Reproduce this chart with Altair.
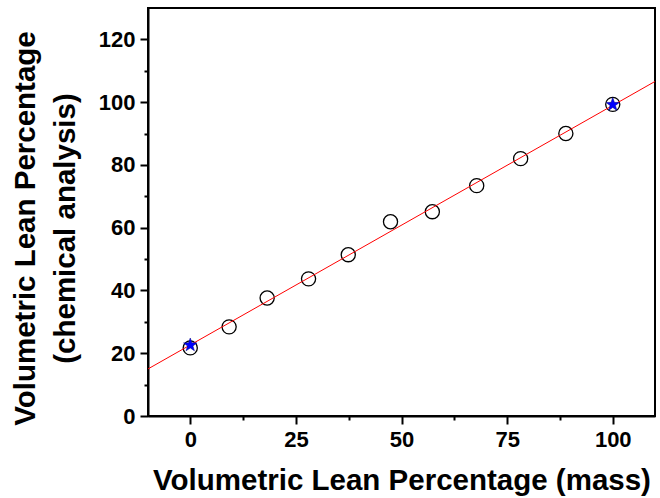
import altair as alt
import pandas as pd

# measured points (mass-based lean % vs chemical analysis)
x_vals = [0, 9.2, 18.2, 28.0, 37.4, 47.4, 57.3, 67.8, 78.2, 88.9, 100]
y_vals = [21.7, 28.4, 37.6, 43.7, 51.4, 61.9, 65.1, 73.4, 82.0, 90.0, 99.3]

# fitted line end points
fit_x = [-10, 110]
fit_y = [15.0, 106.6]

# reference stars
star_x = [0, 100]
star_y = [22.6, 99.2]

x_major = [0, 25, 50, 75, 100]
x_minor = [12.5, 37.5, 62.5, 87.5]
y_major = [0, 20, 40, 60, 80, 100, 120]
y_minor = [10, 30, 50, 70, 90, 110]

pts = pd.DataFrame({"x": x_vals, "y": y_vals})
fit = pd.DataFrame({"x": fit_x, "y": fit_y})
stars = pd.DataFrame({"x": star_x, "y": star_y})

FONT = "Liberation Sans"
STAR = "M0,-1L0.235,-0.324L0.951,-0.309L0.38,0.124L0.588,0.809L0,0.4L-0.588,0.809L-0.38,0.124L-0.951,-0.309L-0.235,-0.324Z"

xscale = alt.Scale(domain=[-10, 110], nice=False, zero=False)
yscale = alt.Scale(domain=[0, 130], nice=False, zero=False)

xaxis = alt.Axis(
    orient="bottom", values=x_major, ticks=True, tickSize=8, tickWidth=2, tickColor="black",
    title="Volumetric Lean Percentage (mass)",
    titleFontSize=29.5, titlePadding=16,
    labelFontSize=22, labelPadding=5,
    grid=False,
)
yaxis = alt.Axis(
    orient="left", values=y_major, ticks=True, tickSize=8, tickWidth=2, tickColor="black",
    title=["Volumetric Lean Percentage", "(chemical analysis)"],
    titleFontSize=29.5, titleLineHeight=40, titlePadding=18, titleY=220,
    labelFontSize=22, labelPadding=5,
    grid=False,
)
xaxis_minor = alt.Axis(
    orient="bottom", values=x_minor, ticks=True, tickSize=4, tickWidth=2, tickColor="black",
    labels=False, domain=False, title=None, grid=False,
)
yaxis_minor = alt.Axis(
    orient="left", values=y_minor, ticks=True, tickSize=4, tickWidth=2, tickColor="black",
    labels=False, domain=False, title=None, grid=False,
)

circles = alt.Chart(pts).mark_point(
    shape="circle", size=200, filled=False, stroke="black", strokeWidth=1.3, opacity=1
).encode(
    x=alt.X("x:Q", scale=xscale, axis=xaxis),
    y=alt.Y("y:Q", scale=yscale, axis=yaxis),
)

line = alt.Chart(fit).mark_line(color="#ff0000", strokeWidth=1, clip=True).encode(
    x=alt.X("x:Q", scale=xscale, axis=xaxis_minor),
    y=alt.Y("y:Q", scale=yscale, axis=yaxis_minor),
)

star = alt.Chart(stars).mark_point(
    shape=STAR, size=200, filled=True, fill="#0000ff", stroke="#000080", strokeWidth=0.5, opacity=1
).encode(
    x=alt.X("x:Q", scale=xscale, axis=None),
    y=alt.Y("y:Q", scale=yscale, axis=None),
)

chart = alt.layer(circles, line, star).resolve_axis(
    x="independent", y="independent"
).properties(
    width=507, height=408,
    autosize=alt.AutoSizeParams(type="none"),
    padding={"left": 148, "top": 8, "right": 5, "bottom": 82},
    background="white",
).configure_view(
    stroke="black", strokeWidth=2
).configure_axis(
    domainColor="black", domainWidth=2,
    labelFont=FONT, labelFontWeight="bold", labelColor="black",
    titleFont=FONT, titleFontWeight="bold", titleColor="black",
)

chart.save("out.html", embed_options={"renderer": "svg", "actions": False})
